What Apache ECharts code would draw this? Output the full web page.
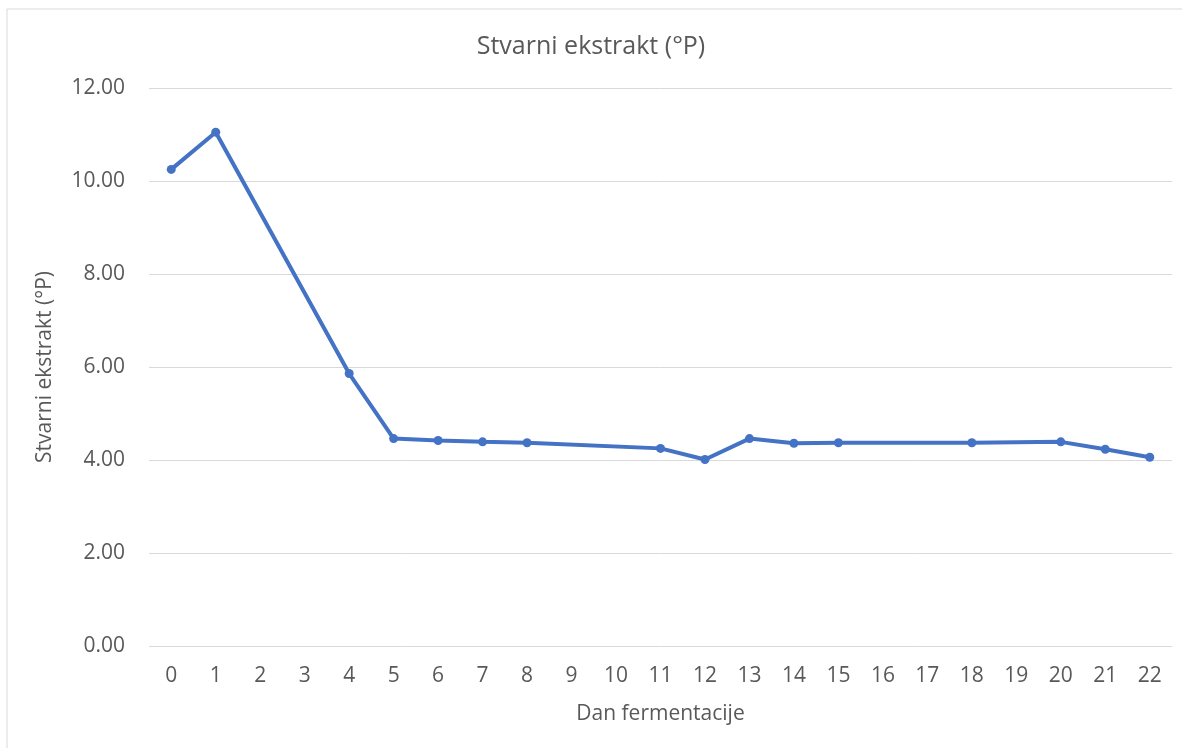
<!DOCTYPE html>
<html>
<head>
<meta charset="utf-8">
<script src="https://cdn.jsdelivr.net/npm/echarts@6/dist/echarts.min.js"></script>
<style>
  html, body { margin: 0; padding: 0; background: #fff; }
  #chart { width: 1182px; height: 748px; }
</style>
</head>
<body>
<div id="chart"></div>
<script>
// dani fermentacije (kategorije) i izmjerene vrijednosti
const days = ['0','1','2','3','4','5','6','7','8','9','10','11','12','13','14','15','16','17','18','19','20','21','22'];
const extract = [10.25, 11.05, null, null, 5.86, 4.46, 4.42, 4.39, 4.37, null, null, 4.25, 4.01, 4.46, 4.36, 4.37, null, null, 4.37, null, 4.39, 4.23, 4.06];
const yTicks = { min: 0, max: 12, interval: 2 };

const chart = echarts.init(document.getElementById('chart'));
const font = '"Open Sans", "Noto Sans", sans-serif';

chart.setOption({
    animation: false,
    textStyle: { fontFamily: font },
    graphic: [{
        type: 'rect',
        shape: { x: 7, y: 9, width: 1200, height: 760 },
        style: { fill: 'none', stroke: '#d9d9d9', lineWidth: 1 },
        silent: true
    }],
    title: {
        text: 'Stvarni ekstrakt (°P)',
        left: 'center',
        top: 29,
        textStyle: { fontFamily: font, fontSize: 25, fontWeight: 'normal', color: '#595959' }
    },
    grid: { left: 149, right: 10, top: 88, bottom: 102 },
    xAxis: {
        type: 'category',
        data: days,
        boundaryGap: true,
        name: 'Dan fermentacije',
        nameLocation: 'middle',
        nameGap: 58,
        nameTextStyle: { fontFamily: font, fontSize: 21, color: '#595959' },
        axisLine: { show: false },
        axisTick: { show: false },
        axisLabel: { fontFamily: font, fontSize: 21, color: '#595959', margin: 20, interval: 0 }
    },
    yAxis: {
        type: 'value',
        min: yTicks.min,
        max: yTicks.max,
        interval: yTicks.interval,
        name: 'Stvarni ekstrakt (°P)',
        nameLocation: 'middle',
        nameGap: 93,
        nameTextStyle: { fontFamily: font, fontSize: 21, color: '#595959' },
        axisLine: { show: false },
        axisTick: { show: false },
        axisLabel: { fontFamily: font, fontSize: 21, color: '#595959', margin: 24, formatter: v => v.toFixed(2) },
        splitLine: { lineStyle: { color: '#d9d9d9', width: 1 } }
    },
    series: [{
        type: 'line',
        data: extract,
        connectNulls: true,
        symbol: 'circle',
        symbolSize: 9,
        lineStyle: { color: '#4472c4', width: 4 },
        itemStyle: { color: '#4472c4' }
    }]
});
</script>
</body>
</html>
